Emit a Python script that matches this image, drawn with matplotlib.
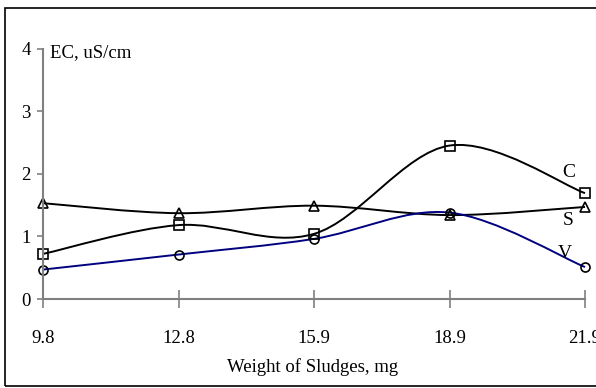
import numpy as np
import matplotlib
matplotlib.use('Agg')
import matplotlib.pyplot as plt
from matplotlib.path import Path
from matplotlib.patches import PathPatch, Rectangle

plt.rcParams['font.family'] = ['Liberation Serif', 'DejaVu Serif']

weights = ['9.8', '12.8', '15.9', '18.9', '21.9']
ec_c = [0.72, 1.18, 1.04, 2.45, 1.69]
ec_s = [1.53, 1.37, 1.49, 1.34, 1.47]
ec_v = [0.47, 0.71, 0.96, 1.38, 0.51]
series_names = ['C', 'S', 'V']


def smooth_path(x, y):
    # excel-style smoothed line: cubic bezier through the points
    pts = np.column_stack([x, y]).astype(float)
    ext = np.vstack([pts[0], pts, pts[-1]])
    verts = [pts[0]]
    codes = [Path.MOVETO]
    for i in range(len(pts) - 1):
        p0, p1, p2, p3 = ext[i], ext[i + 1], ext[i + 2], ext[i + 3]
        verts += [p1 + (p2 - p0) / 6, p2 - (p3 - p1) / 6, p2]
        codes += [Path.CURVE4] * 3
    return Path(verts, codes)


W, H = 596, 388
fig = plt.figure(figsize=(W / 100, H / 100), dpi=100)
fig.patches.append(Rectangle((5 / W, 2 / H), 1.2, (386 - 8) / H,
                             transform=fig.transFigure, fill=False,
                             ec='black', lw=1.2))

ax = fig.add_axes([43 / W, 1 - 299 / H, (585 - 43) / W, (299 - 48.5) / H])
ax.patch.set_alpha(0)

x = np.arange(len(weights))
styles = [
    (ec_c, 'black', 's', (-11.5, 15)),
    (ec_s, 'black', '^', (-12, -9.5)),
    (ec_v, '#000080', 'o', (-14.5, 10)),
]
for (vals, col, mk, off), name in zip(styles, series_names):
    ax.add_patch(PathPatch(smooth_path(x, vals), fill=False, ec=col, lw=1.4,
                           clip_on=False))
    ax.plot(x, vals, ls='none', marker=mk, ms=6.5, mfc='none', mec='black',
            mew=1.2, clip_on=False)
    ax.annotate(name, (x[-1], vals[-1]), xytext=off, textcoords='offset points',
                ha='center', va='center', fontsize=14)

ax.set_xlim(0, 4)
ax.set_ylim(0, 4)
ax.set_xticks(x)
ax.set_xticklabels(weights)
ax.set_yticks([0, 1, 2, 3, 4])

for side in ['top', 'right']:
    ax.spines[side].set_visible(False)
for side in ['left', 'bottom']:
    ax.spines[side].set_color('#808080')
    ax.spines[side].set_linewidth(1.5)

ax.tick_params(axis='y', direction='out', length=4, width=1.2, color='#808080',
               labelsize=13.5, pad=5)
ax.tick_params(axis='x', direction='inout', length=13, width=1.2, color='#808080',
               labelsize=13.5, pad=16)

ax.set_xlabel('Weight of Sludges, mg', fontsize=13.5)
ax.xaxis.set_label_coords(0.498, -0.235)
ax.text(50 / W, 1 - 53 / H, 'EC, uS/cm', transform=fig.transFigure,
        ha='left', va='center', fontsize=13.5)

fig.savefig('out.png', dpi=100)
